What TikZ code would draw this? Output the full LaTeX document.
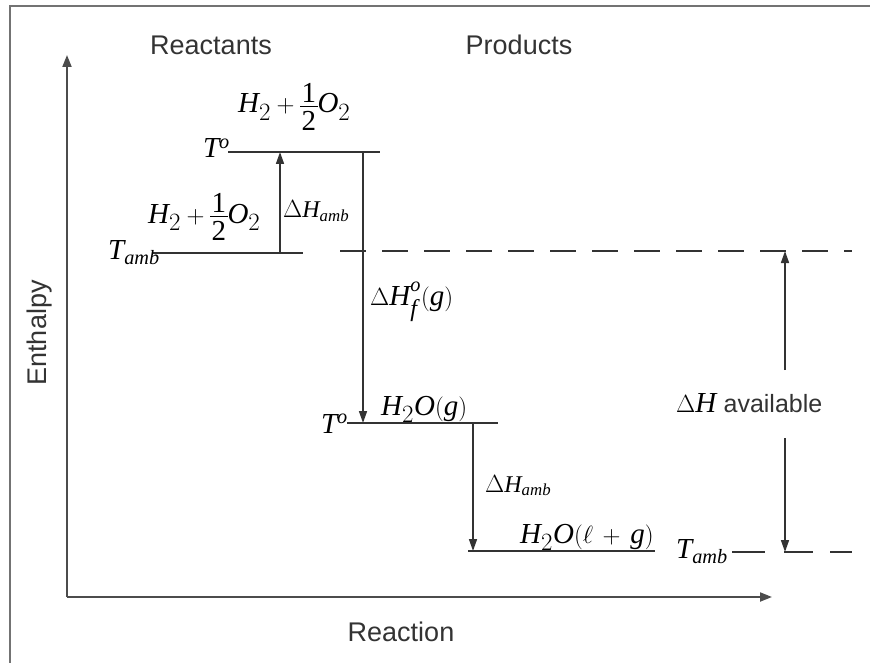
\documentclass[tikz,border=0pt]{standalone}
\usepackage{amsmath}
\usepackage{fontspec}
\setmainfont{Liberation Serif}
\setsansfont{Liberation Sans}
\usepackage[italic]{mathastext}
\usetikzlibrary{arrows.meta}
\tikzset{
  ax/.style={line width=2pt, draw=black!70, -{Triangle[length=12pt,width=9pt]}},
  frame/.style={line width=2.5pt, draw=black!55},
  lvl/.style={line width=1.8pt, draw=black!80},
  dsh/.style={line width=1.8pt, draw=black!80, dash pattern=on 26pt off 16pt},
  arr/.style={line width=1.6pt, draw=black!80, -{Triangle[length=12pt,width=8pt]}},
  lbl/.style={inner sep=0pt, font=\sffamily\fontsize{27}{31}\selectfont, text=black!80},
  mth/.style={inner sep=0pt, font=\fontsize{29}{34}\selectfont},
  mths/.style={inner sep=0pt, font=\fontsize{24}{28}\selectfont}
}
\newcommand{\ambsub}{_{\scriptscriptstyle amb}}
\newcommand{\halffrac}{\mathord{\vcenter{\offinterlineskip\halign{\hfil\kern1.5pt##\kern1.5pt\hfil\cr 1\cr\noalign{\kern4pt\hrule height 1pt\kern4pt}2\cr}}}}
\begin{document}
\begin{tikzpicture}[x=1pt,y=-1pt]
\useasboundingbox (0,0) rectangle (870,663);
% frame
\draw[frame] (10,663) -- (10,6) -- (870,6);
% axes
\coordinate (O) at (67,597);
\coordinate (Ytop) at (67,55);
\coordinate (Xend) at (772,597);
\draw[ax] (O) -- (Ytop);
\draw[ax] (O) -- (Xend);
\node[lbl] (react) at (211,45) {Reactants};
\node[lbl] (prod) at (519,45) {Products};
\node[lbl, rotate=90] (enth) at (40,333) {Enthalpy};
\node[lbl] (reac) at (401,632) {Reaction};
% levels
\coordinate (r1a) at (152,253); \coordinate (r1b) at (303,253);
\coordinate (r2a) at (228,152); \coordinate (r2b) at (380,152);
\coordinate (p1a) at (347,423); \coordinate (p1b) at (498,423);
\coordinate (p2a) at (468,551); \coordinate (p2b) at (655,551);
\draw[lvl] (r1a) -- (r1b);
\draw[lvl] (r2a) -- (r2b);
\draw[lvl] (p1a) -- (p1b);
\draw[lvl] (p2a) -- (p2b);
\coordinate (d1a) at (340,251); \coordinate (d1b) at (852,251);
\coordinate (d2a) at (732,552); \coordinate (d2b) at (852,552);
\draw[dsh] (d1a) -- (d1b);
\draw[dsh, dash pattern=on 33pt off 19pt on 29pt off 17pt] (d2a) -- (d2b);
% arrows
\coordinate (a1s) at (280,253); \coordinate (a1e) at (280,152);
\coordinate (a2s) at (363,152); \coordinate (a2e) at (363,423);
\coordinate (a3s) at (473,423); \coordinate (a3e) at (473,551);
\draw[arr] (a1s) -- (a1e);
\draw[arr] (a2s) -- (a2e);
\draw[arr] (a3s) -- (a3e);
% labels
\node[mth, anchor=base west] (h2top) at (238,113) {$H_2+\halffrac O_2$};
\node[mth, anchor=base east] (Ttop) at (230,158) {$T^{\scriptscriptstyle o}$};
\node[mth, anchor=base west] (h2low) at (148,223) {$H_2+\halffrac O_2$};
\node[mth, anchor=base west] (Tamb1) at (108,259) {$T\ambsub$};
\node[mths, anchor=base west] (dHamb1) at (283,218) {$\Delta H\ambsub$};
\node[mth, anchor=base west] (dHf) at (370,305) {$\Delta H_{f}^{\raisebox{4pt}{$\scriptscriptstyle o$}}(g)$};
\node[mth, anchor=base east] (Tmid) at (348,433) {$T^{\scriptscriptstyle o}$};
\node[mth, anchor=base west] (h2og) at (381,415) {$H_2O(g)$};
\node[mths, anchor=base west] (dHamb2) at (485,492) {$\Delta H\ambsub$};
\node[mth, anchor=base west] (h2olg) at (520,543) {$H_2O(\ell\,+\,g)$};
\node[mth, anchor=base west] (Tamb2) at (676,558) {$T\ambsub$};
\node[mth, anchor=base west] (avail) at (676,412) {$\Delta H$ \sffamily\fontsize{25}{29}\selectfont\color{black!80}available};
\coordinate (a4t) at (785,251); \coordinate (a4b) at (785,552);
\coordinate (a4u) at (785,370); \coordinate (a4d) at (785,438);
\draw[arr] (a4u) -- (a4t);
\draw[arr] (a4d) -- (a4b);
\end{tikzpicture}
\end{document}
